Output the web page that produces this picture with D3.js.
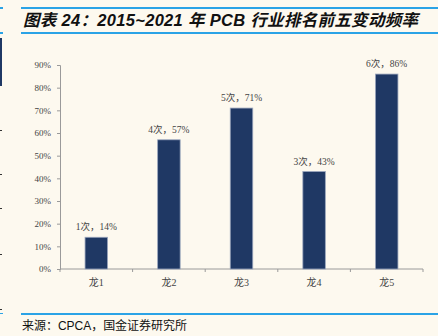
<!DOCTYPE html>
<html><head><meta charset="utf-8">
<script src="https://cdn.jsdelivr.net/npm/d3@7"></script>
<style>body{margin:0;background:#fdf9ef;}svg{display:block;}</style>
</head><body><svg id="c" width="438" height="336"></svg>
<script>
const categories = ["龙1","龙2","龙3","龙4","龙5"];
const counts = [1,4,5,3,6];
const values = [14,57,71,43,86];
const yTicks = [0,10,20,30,40,50,60,70,80,90];

const svg = d3.select("#c");
svg.append("rect").attr("width",438).attr("height",336).attr("fill","#fdf9ef");

const lineBlue = "#2ba3e6";
// header lines
svg.append("rect").attr("x",21).attr("y",7).attr("width",417).attr("height",2).attr("fill",lineBlue);
svg.append("rect").attr("x",21).attr("y",32).attr("width",417).attr("height",2).attr("fill",lineBlue);
svg.append("rect").attr("x",0).attr("y",7).attr("width",3).attr("height",2).attr("fill",lineBlue);
svg.append("rect").attr("x",0).attr("y",32).attr("width",3).attr("height",2).attr("fill",lineBlue);
svg.append("rect").attr("x",0).attr("y",38).attr("width",2).attr("height",48).attr("fill","#1f3864");
[130,174,208,254,309].forEach(y=>svg.append("rect").attr("x",0).attr("y",y).attr("width",2).attr("height",1).attr("fill","#333"));

svg.append("text").attr("x",23).attr("y",26)
  .attr("font-family","Liberation Sans, Noto Sans CJK SC, sans-serif")
  .attr("font-size",16.5).attr("font-weight","bold").attr("font-style","italic")
  .attr("fill","#111").attr("textLength",395).attr("lengthAdjust","spacing")
  .text("图表 24：2015~2021 年 PCB 行业排名前五变动频率");

// footer
svg.append("rect").attr("x",21).attr("y",313).attr("width",417).attr("height",2).attr("fill",lineBlue);
svg.append("rect").attr("x",0).attr("y",313).attr("width",3).attr("height",1).attr("fill",lineBlue);
svg.append("text").attr("x",22).attr("y",330)
  .attr("font-family","Liberation Sans, Noto Sans CJK SC, sans-serif")
  .attr("font-size",12).attr("fill","#111").attr("textLength",165).attr("lengthAdjust","spacing")
  .text("来源：CPCA，国金证券研究所");

// chart
const x0 = 60, x1 = 423, yTop = 65, yBot = 269;
const x = d3.scaleBand().domain(categories).range([x0,x1]).paddingInner(0).paddingOuter(0);
const y = d3.scaleLinear().domain([0,90]).range([yBot,yTop]);
const serif = "Liberation Serif, Noto Sans CJK SC, serif";
const axisColor = "#9a9a9a";

const gy = svg.append("g").attr("transform",`translate(${x0},0)`)
  .call(d3.axisLeft(y).tickValues(yTicks).tickSize(3).tickPadding(6).tickFormat(d=>d+"%"));
gy.select(".domain").attr("stroke",axisColor);
gy.selectAll(".tick line").attr("stroke",axisColor);
gy.selectAll(".tick text").attr("font-family",serif).attr("font-size",9).attr("fill","#444");

const gx = svg.append("g").attr("transform",`translate(0,${yBot})`)
  .call(d3.axisBottom(x).tickSize(0).tickPadding(10));
gx.select(".domain").attr("stroke",axisColor).attr("d",`M${x0},0H${x1}`);
gx.selectAll(".tick text").attr("font-family",serif).attr("font-size",10).attr("fill","#444");
// boundary ticks
const bounds = categories.map(c=>x(c)).concat([x1]);
gx.selectAll(".bt").data(bounds).enter().append("line")
  .attr("x1",d=>d).attr("x2",d=>d).attr("y1",0).attr("y2",3).attr("stroke",axisColor);

const bw = x.bandwidth()*0.31;
svg.selectAll(".bar").data(values).enter().append("rect")
  .attr("x",(d,i)=>x(categories[i])+x.bandwidth()/2-bw/2)
  .attr("y",d=>y(d))
  .attr("width",bw).attr("height",d=>yBot-y(d))
  .attr("fill","#1f3864").attr("stroke","#9aa6bd").attr("stroke-width",0.8);

svg.selectAll(".lab").data(values).enter().append("text")
  .attr("x",(d,i)=>x(categories[i])+x.bandwidth()/2)
  .attr("y",d=>y(d)-7)
  .attr("text-anchor","middle").attr("font-family",serif).attr("font-size",9.5).attr("fill","#444")
  .text((d,i)=>counts[i]+"次，"+d+"%");
</script></body></html>
